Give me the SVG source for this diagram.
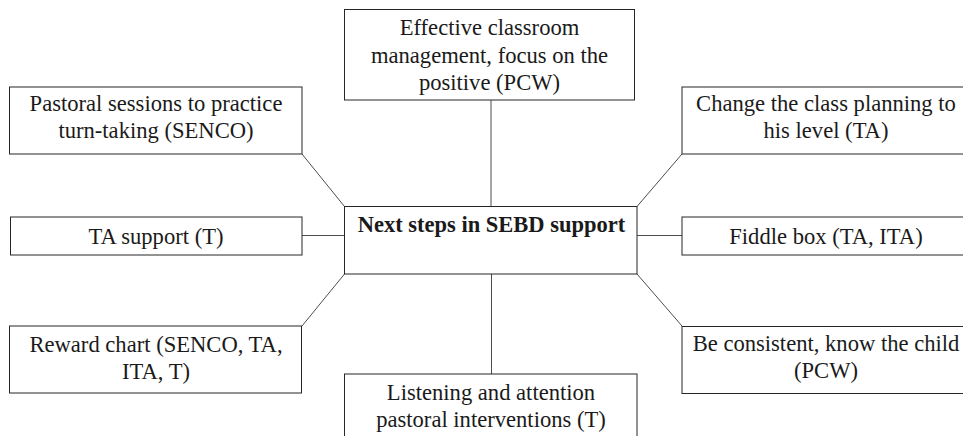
<svg xmlns="http://www.w3.org/2000/svg" width="963" height="436" viewBox="0 0 963 436">
<style>
rect.box{fill:#fff;stroke:#262626;stroke-width:1}
text{font-family:"Liberation Serif","Times New Roman",serif;font-size:22.6px;fill:#1a1a1a;text-anchor:middle}
text.title{font-weight:bold;font-size:22.5px}
#connectors line{stroke:#4d4d4d;stroke-width:1}
</style>
<rect width="963" height="436" fill="#fff"/>
<g id="connectors">
<line x1="302" y1="154" x2="344.5" y2="206.5"/>
<line x1="491" y1="100" x2="491" y2="206.5"/>
<line x1="637" y1="206.5" x2="682" y2="154"/>
<line x1="302" y1="235.5" x2="344.5" y2="235.5"/>
<line x1="637" y1="235.5" x2="682" y2="235.5"/>
<line x1="344.5" y1="274" x2="302" y2="326"/>
<line x1="491.5" y1="274" x2="491.5" y2="374"/>
<line x1="637" y1="274" x2="682" y2="326"/>
</g>
<g id="center">
<rect class="box" x="344.5" y="206.5" width="292.5" height="67.5"/>
<text class="title" x="491.5" y="232">Next steps in SEBD support</text>
</g>
<g id="effective">
<rect class="box" x="344.5" y="9.5" width="290" height="90.5"/>
<text x="489.5" y="35">Effective classroom</text>
<text x="489.5" y="62.5">management, focus on the</text>
<text x="489.5" y="90">positive (PCW)</text>
</g>
<g id="pastoral">
<rect class="box" x="9.5" y="87" width="292.5" height="67"/>
<text x="156" y="111">Pastoral sessions to practice</text>
<text x="156" y="137.5">turn-taking (SENCO)</text>
</g>
<g id="change">
<rect class="box" x="682" y="87" width="292" height="67"/>
<text x="826" y="111">Change the class planning to</text>
<text x="826" y="137.5">his level (TA)</text>
</g>
<g id="ta-support">
<rect class="box" x="10.5" y="217" width="291.5" height="38"/>
<text x="156" y="244">TA support (T)</text>
</g>
<g id="fiddle">
<rect class="box" x="682" y="217" width="292" height="38"/>
<text x="826" y="244">Fiddle box (TA, ITA)</text>
</g>
<g id="reward">
<rect class="box" x="9.5" y="326" width="292" height="67"/>
<text x="156" y="352">Reward chart (SENCO, TA,</text>
<text x="156" y="378.5">ITA, T)</text>
</g>
<g id="consistent">
<rect class="box" x="682" y="326.5" width="292" height="67"/>
<text x="826" y="351">Be consistent, know the child</text>
<text x="826" y="377.5">(PCW)</text>
</g>
<g id="listening">
<rect class="box" x="344.5" y="374" width="292.5" height="80"/>
<text x="491" y="400">Listening and attention</text>
<text x="491" y="426.5">pastoral interventions (T)</text>
</g>
</svg>
